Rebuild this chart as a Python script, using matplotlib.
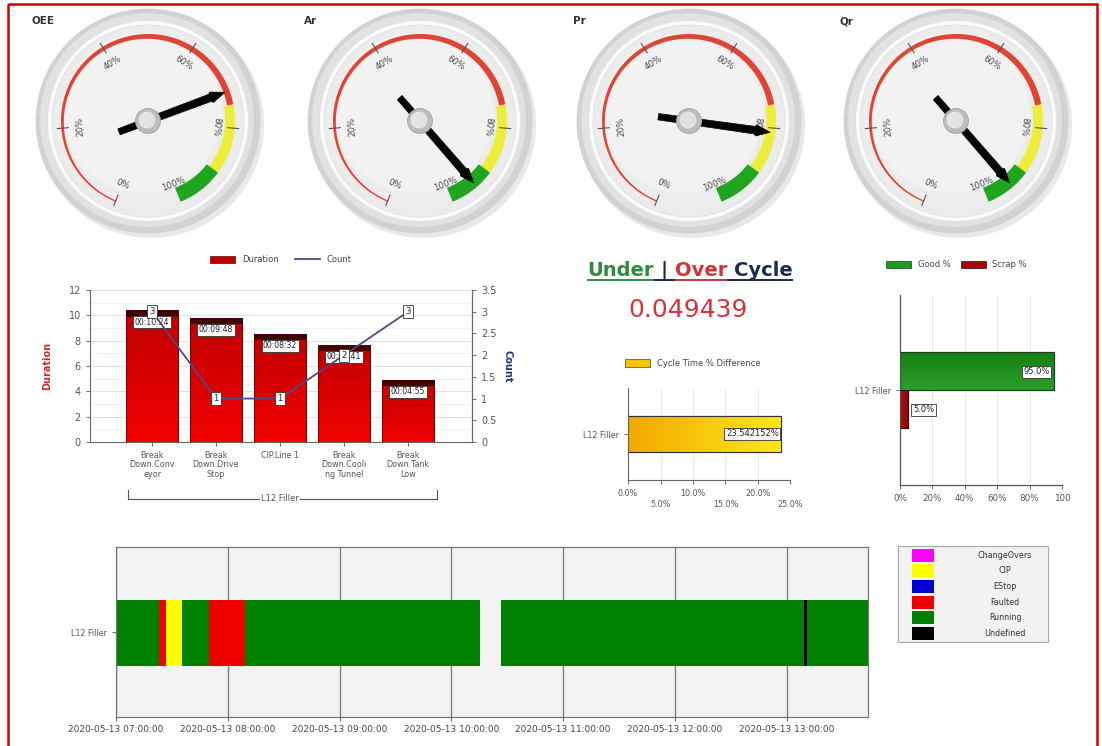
import numpy as np
import matplotlib
matplotlib.use('Agg')
import matplotlib.pyplot as plt
from matplotlib.patches import Circle, Polygon, Rectangle, Patch
from matplotlib.lines import Line2D
from matplotlib.colors import LinearSegmentedColormap
import matplotlib.dates as mdates
import pandas as pd

# ---------------- data ----------------
gauge_names = ['OEE', 'Ar', 'Pr', 'Qr']
gauge_values = [72, 94, 81, 94]
gauge_ticks = [0, 20, 40, 60, 80, 100]
gauge_band_limits = [0, 75, 90, 100]

downtime_categories = ['Break\nDown.Conv\neyor', 'Break\nDown.Drive\nStop', 'CIP.Line 1',
                       'Break\nDown.Cooli\nng Tunnel', 'Break\nDown.Tank\nLow']
downtime_duration = [10.4, 9.8, 8.53, 7.68, 4.92]
downtime_labels = ['00:10:24', '00:09:48', '00:08:32', '00:07:41', '00:04:55']
downtime_count = [3, 1, 1, 2, 3]
downtime_group = 'L12 Filler'

cycle_value = '0.049439'
cycle_category = ['L12 Filler']
cycle_diff = [23.542152]
cycle_diff_label = ['23.542152%']

quality_category = ['L12 Filler']
good_pct = [95.0]
scrap_pct = [5.0]

state_names = ['ChangeOvers', 'CIP', 'EStop', 'Faulted', 'Running', 'Undefined']
state_colors = ['#ff00ff', '#ffff00', '#0000cc', '#ee0000', '#008000', '#000000']
timeline_line = 'L12 Filler'
timeline_start = ['2020-05-13 07:00:00', '2020-05-13 07:23:00', '2020-05-13 07:27:00',
                  '2020-05-13 07:35:20', '2020-05-13 07:50:00', '2020-05-13 08:09:30',
                  '2020-05-13 10:26:30', '2020-05-13 13:09:30', '2020-05-13 13:10:40']
timeline_end = ['2020-05-13 07:23:00', '2020-05-13 07:27:00', '2020-05-13 07:35:20',
                '2020-05-13 07:50:00', '2020-05-13 08:09:30', '2020-05-13 10:15:20',
                '2020-05-13 13:09:30', '2020-05-13 13:10:40', '2020-05-13 13:44:00']
timeline_state = ['Running', 'Faulted', 'CIP', 'Running', 'Faulted', 'Running',
                  'Running', 'Undefined', 'Running']
timeline_range = ['2020-05-13 07:00:00', '2020-05-13 13:43:40']

# ---------------- figure ----------------
W, H = 1102, 746
fig = plt.figure(figsize=(W / 100, H / 100), dpi=100)
fig.patch.set_facecolor('white')


def add_ax(x0, y0, x1, y1):
    return fig.add_axes([x0 / W, 1 - y1 / H, (x1 - x0) / W, (y1 - y0) / H])


bg = fig.add_axes([0, 0, 1, 1])
bg.set_xlim(0, W)
bg.set_ylim(H, 0)
bg.axis('off')

# border
bg.add_patch(Rectangle((8, 4), 1089, 780, fill=False, ec='#cc0000', lw=1.8))


# ---------------- gauges ----------------
def val2ang(v):
    return 248 - 3.16 * v


def gpt(cx, cy, r, a_deg):
    a = np.deg2rad(a_deg)
    return cx + r * np.cos(a), cy - r * np.sin(a)


def band(cx, cy, v0, v1, r_out, w0, w1, color):
    vs = np.linspace(v0, v1, 80)
    ws = np.linspace(w0, w1, 80)
    outer = [gpt(cx, cy, r_out, val2ang(v)) for v in vs]
    inner = [gpt(cx, cy, r_out - w, val2ang(v)) for v, w in zip(vs[::-1], ws[::-1])]
    bg.add_patch(Polygon(outer + inner, closed=True, fc=color, ec='none', zorder=3))


def gauge(cx, cy, value, name):
    bg.add_patch(Circle((cx + 3, cy + 4), 113, fc='#e8e8e8', ec='none', zorder=1))
    bg.add_patch(Circle((cx, cy), 112, fc='#d2d2d2', ec='#cfcfcf', lw=0.5, zorder=1))
    bg.add_patch(Circle((cx - 1, cy - 1), 107, fc='#e2e2e2', ec='none', zorder=1))
    bg.add_patch(Circle((cx, cy), 100, fc='#fbfbfb', ec='none', zorder=1))
    bg.add_patch(Circle((cx, cy), 96, fc='#ececec', ec='#dddddd', lw=0.5, zorder=1))
    bg.add_patch(Circle((cx - 6, cy - 8), 80, fc='#f2f2f2', ec='none', zorder=1))
    r_out = 87
    b = gauge_band_limits
    band(cx, cy, b[0], b[1], r_out, 1.3, 6.5, '#de4535')
    band(cx, cy, b[1], b[2], r_out, 9.5, 11, '#eeee3a')
    band(cx, cy, b[2], b[3], r_out, 14, 15, '#1fa51f')
    for t in gauge_ticks[:-1]:
        a = val2ang(t)
        p0 = gpt(cx, cy, 80, a)
        p1 = gpt(cx, cy, 91, a)
        bg.plot([p0[0], p1[0]], [p0[1], p1[1]], color='#555555', lw=0.8, zorder=4)
    for t in gauge_ticks:
        a = val2ang(t)
        px, py = gpt(cx, cy, 68, a)
        rot = a - 90
        while rot > 180:
            rot -= 360
        while rot < -180:
            rot += 360
        if rot > 100:
            rot -= 180
        if rot < -100:
            rot += 180
        bg.text(px, py, f'{t}%', fontsize=6.2, color='#4a4a4a', rotation=rot,
                ha='center', va='center', rotation_mode='anchor', zorder=4)
    # needle
    a = np.deg2rad(val2ang(value))
    u = np.array([np.cos(a), -np.sin(a)])
    p = np.array([np.sin(a), np.cos(a)])
    local = [(-31, -3.2), (66, -3.8), (68, -5.5), (82, 0), (68, 5.5), (66, 3.8), (-31, 3.2)]
    pts = [np.array([cx, cy]) + s * u + t * p for s, t in local]
    bg.add_patch(Polygon(pts, closed=True, fc='#050505', ec='#050505', lw=0.5, zorder=5))
    bg.add_patch(Circle((cx, cy), 12.5, fc='#bcbcbc', ec='#a5a5a5', lw=0.6, zorder=6))
    bg.add_patch(Circle((cx - 1, cy - 1), 8.5, fc='#e4e4e4', ec='none', zorder=6))
    bg.text(cx - 116, 21, name, fontsize=7.5, fontweight='bold', color='#333333',
            ha='left', va='center', zorder=7)


gauge_cx = [148, 420, 689, 956]
for gx, gv, gn in zip(gauge_cx, gauge_values, gauge_names):
    gauge(gx, 121, gv, gn)


def grad_fill(ax, patch, c0, c1, horizontal=False):
    x0, y0 = patch.get_xy()
    w = patch.get_width()
    h = patch.get_height()
    g = np.linspace(0, 1, 256)
    arr = g[None, :] if horizontal else g[:, None]
    cmap = LinearSegmentedColormap.from_list('g', [c0, c1])
    im = ax.imshow(arr, cmap=cmap, extent=[x0, x0 + w, y0, y0 + h], origin='lower',
                   aspect='auto', zorder=patch.get_zorder() + 0.05, interpolation='bilinear')
    im.set_clip_path(patch)
    ax.add_patch(Rectangle((x0, y0), w, h, fill=False, ec=patch.get_edgecolor(),
                           lw=patch.get_linewidth(), zorder=patch.get_zorder() + 0.1))


# ---------------- downtime pareto ----------------
ax1 = add_ax(90, 290, 472, 442)
n = len(downtime_categories)
xs = np.arange(n)
bw = 0.81
bars = ax1.bar(xs, downtime_duration, width=bw, color='#d80000', edgecolor='#6a0000',
               lw=0.6, zorder=2)
for b in bars:
    grad_fill(ax1, b, '#f20000', '#c00000')
cap = 0.42
ax1.bar(xs, [cap] * n, bottom=np.array(downtime_duration) - cap, width=bw,
        color='#3e0404', edgecolor='#3e0404', lw=0.5, zorder=3)
for xi, h, lab in zip(xs, downtime_duration, downtime_labels):
    ax1.text(xi, h - 0.95, lab, ha='center', va='center', fontsize=5.6, color='#222222',
             bbox=dict(boxstyle='square,pad=0.18', fc='white', ec='#333333', lw=0.6), zorder=5)
ax1.set_xlim(-0.97, n)
ax1.set_ylim(0, 12)
ax1.set_yticks(np.arange(0, 13, 2))
ax1.set_yticks(np.arange(1, 12, 2), minor=True)
ax1.grid(axis='y', which='major', color='#dcdcdc', lw=0.6, zorder=0)
ax1.grid(axis='y', which='minor', color='#eeeeee', lw=0.5, zorder=0)
ax1.set_axisbelow(True)
ax1.set_xticks(xs)
ax1.set_xticklabels(downtime_categories, fontsize=5.8, color='#555555', linespacing=1.05)
ax1.tick_params(axis='y', labelsize=7, colors='#555555', length=3, width=0.6)
ax1.tick_params(axis='y', which='minor', length=0)
ax1.tick_params(axis='x', length=3, width=0.6, colors='#555555')
for s in ['left', 'bottom', 'right']:
    ax1.spines[s].set_color('#666666')
    ax1.spines[s].set_linewidth(0.8)
ax1.spines['top'].set_visible(False)
ax1.set_ylabel('Duration', color='#cc2a2a', fontsize=7, fontweight='bold')
ax1.yaxis.set_label_coords(-0.1, 0.5)

ax2 = ax1.twinx()
ax2.plot(xs, downtime_count, color='#4a4a88', lw=1.3, zorder=4)
for xi, c in zip(xs, downtime_count):
    ax2.text(xi, c, str(c), ha='center', va='center', fontsize=6, color='#222222',
             bbox=dict(boxstyle='square,pad=0.25', fc='white', ec='#333333', lw=0.6), zorder=6)
ax2.set_ylim(0, 3.5)
ax2.set_yticks(np.arange(0, 3.51, 0.5))
ax2.set_yticklabels(['0', '0.5', '1', '1.5', '2', '2.5', '3', '3.5'])
ax2.tick_params(axis='y', labelsize=7, colors='#555555', length=3, width=0.6)
ax2.spines['top'].set_visible(False)
ax2.spines['right'].set_color('#666666')
ax2.spines['left'].set_visible(False)
ax2.spines['bottom'].set_visible(False)
ax2.set_ylabel('Count', color='#223377', fontsize=7, fontweight='bold', rotation=270)
ax2.yaxis.set_label_coords(1.105, 0.5)

tr = ax1.get_xaxis_transform()
yb = -0.375
ax1.plot([-0.38, 4.45], [yb, yb], transform=tr, color='#555555', lw=0.8, clip_on=False)
ax1.plot([-0.38, -0.38], [yb, yb + 0.06], transform=tr, color='#555555', lw=0.8, clip_on=False)
ax1.plot([4.45, 4.45], [yb, yb + 0.06], transform=tr, color='#555555', lw=0.8, clip_on=False)
ax1.text(2.0, yb, downtime_group, transform=tr, ha='center', va='center', fontsize=6,
         color='#555555', bbox=dict(boxstyle='square,pad=0.1', fc='white', ec='none'))

ax1.legend(handles=[Patch(fc='#c00000', ec='#6a0000', lw=0.5, label='Duration'),
                    Line2D([], [], color='#4a4a88', lw=1.3, label='Count')],
           loc='center', bbox_to_anchor=(0.5, 1.2), ncol=2, frameon=False, fontsize=6,
           handlelength=3.0, handleheight=1.0, columnspacing=2.0, labelcolor='#444444')

# ---------------- under / over cycle ----------------
renderer = fig.canvas.get_renderer()
pieces = [('Under', '#2e8b3e'), ('|', '#1c2a48'), ('Over', '#d0323e'), ('Cycle', '#1c2a48')]
texts = []
for s, c in pieces:
    t = bg.text(0, 276, s, fontsize=14, fontweight='bold', color=c, ha='left',
                va='baseline')
    texts.append(t)
widths = [t.get_window_extent(renderer).width for t in texts]
gap = 14 * 100 / 72 * 0.36
total = sum(widths) + gap * (len(widths) - 1)
xcur = 690 - total / 2
ul = 279.5
for t, w, (s, c) in zip(texts, widths, pieces):
    t.set_x(xcur)
    bg.plot([xcur, xcur + w], [ul, ul], color=c, lw=1.4, solid_capstyle='butt')
    if t is not texts[-1]:
        bg.plot([xcur + w, xcur + w + gap], [ul, ul], color='#1c2a48', lw=1.4,
                solid_capstyle='butt')
    xcur += w + gap

bg.text(688, 310, cycle_value, fontsize=18, color='#d5343f', ha='center', va='center')

ax3 = add_ax(628, 388, 790.5, 480)
b3 = ax3.barh([0], cycle_diff, height=0.39, color='#f5c000', edgecolor='#333333', lw=0.8,
              zorder=2)
for b in b3:
    grad_fill(ax3, b, '#f2a800', '#ffe81a', horizontal=True)
for yi, v, lab in zip([0], cycle_diff, cycle_diff_label):
    ax3.text(v - 0.35, yi, lab, ha='right', va='center', fontsize=6, color='#222222',
             bbox=dict(boxstyle='square,pad=0.18', fc='white', ec='#333333', lw=0.6), zorder=5)
ax3.set_xlim(0, 25)
ax3.set_ylim(-0.5, 0.5)
ax3.set_xticks(np.arange(0, 26, 5))
ax3.set_xticklabels(['0.0%', '\n5.0%', '10.0%', '\n15.0%', '20.0%', '\n25.0%'],
                    fontsize=5.8, color='#555555', linespacing=1.3)
ax3.set_yticks([0])
ax3.set_yticklabels(cycle_category, fontsize=5.8, color='#444444')
ax3.grid(axis='x', color='#e4e4e4', lw=0.6, zorder=0)
ax3.set_axisbelow(True)
ax3.tick_params(length=3, width=0.6, colors='#555555')
for s in ['top', 'right']:
    ax3.spines[s].set_visible(False)
for s in ['left', 'bottom']:
    ax3.spines[s].set_color('#666666')
    ax3.spines[s].set_linewidth(0.8)
ax3.legend(handles=[Patch(fc='#f5c400', ec='#444444', lw=0.5, label='Cycle Time % Difference')],
           loc='center', bbox_to_anchor=(0.4, 1.27), frameon=False, fontsize=6,
           handlelength=3.0, handleheight=1.0, labelcolor='#444444')

# ---------------- good / scrap ----------------
ax4 = add_ax(900, 295, 1062, 485)
g4 = ax4.barh([0], good_pct, height=0.2, align='edge', color='#1a8f1a', edgecolor='#1e3a1e',
              lw=0.8, zorder=2)
s4 = ax4.barh([-0.2], scrap_pct, height=0.2, align='edge', color='#a00a0a', edgecolor='#3a0a0a',
              lw=0.8, zorder=2)
for b in g4:
    grad_fill(ax4, b, '#2aa02a', '#137f13')
for b in s4:
    grad_fill(ax4, b, '#b01010', '#8a0505', horizontal=True)
for v in good_pct:
    ax4.text(v - 2.5, 0.095, f'{v:.1f}%', ha='right', va='center', fontsize=6, color='#222222',
             bbox=dict(boxstyle='square,pad=0.18', fc='white', ec='#333333', lw=0.6), zorder=5)
for v in scrap_pct:
    ax4.text(v + 3.0, -0.105, f'{v:.1f}%', ha='left', va='center', fontsize=6, color='#222222',
             bbox=dict(boxstyle='square,pad=0.18', fc='white', ec='#333333', lw=0.6), zorder=5)
ax4.set_xlim(0, 100)
ax4.set_ylim(-0.5, 0.5)
ax4.set_xticks(np.arange(0, 101, 20))
ax4.set_xticklabels(['0%', '20%', '40%', '60%', '80%', '100'], fontsize=6.3, color='#555555')
ax4.set_yticks([0])
ax4.set_yticklabels(quality_category, fontsize=5.8, color='#444444')
ax4.grid(axis='x', color='#e2e2e2', lw=0.6, zorder=0)
ax4.set_axisbelow(True)
ax4.tick_params(length=3, width=0.6, colors='#555555')
for s in ['top', 'right']:
    ax4.spines[s].set_visible(False)
for s in ['left', 'bottom']:
    ax4.spines[s].set_color('#555555')
    ax4.spines[s].set_linewidth(0.9)
ax4.legend(handles=[Patch(fc='#1f9a1f', ec='#1e3a1e', lw=0.5, label='Good %'),
                    Patch(fc='#a00a0a', ec='#3a0a0a', lw=0.5, label='Scrap %')],
           loc='center', bbox_to_anchor=(0.35, 1.16), ncol=2, frameon=False, fontsize=6,
           handlelength=3.0, handleheight=1.0, columnspacing=1.2, labelcolor='#444444')

# ---------------- state timeline ----------------
ax5 = add_ax(116, 547, 868, 717)
ax5.set_facecolor('#f3f3f3')
color_of = dict(zip(state_names, state_colors))
st = mdates.date2num(pd.to_datetime(timeline_start))
en = mdates.date2num(pd.to_datetime(timeline_end))
for s0, e0, stt in zip(st, en, timeline_state):
    ax5.broken_barh([(s0, e0 - s0)], (-0.2, 0.39), facecolors=color_of[stt], edgecolor='none',
                    zorder=2)
rng = mdates.date2num(pd.to_datetime(timeline_range))
ax5.set_xlim(rng[0], rng[1])
ax5.set_ylim(-0.5, 0.5)
ax5.xaxis.set_major_locator(mdates.HourLocator())
ax5.xaxis.set_major_formatter(mdates.DateFormatter('%Y-%m-%d %H:%M:%S'))
ax5.grid(axis='x', color='#808080', lw=1.0, zorder=1)
ax5.set_axisbelow(True)
ax5.set_yticks([0])
ax5.set_yticklabels([timeline_line], fontsize=5.8, color='#444444')
ax5.tick_params(axis='x', labelsize=6.5, colors='#444444', length=3, width=0.6, pad=2.5)
ax5.tick_params(axis='y', length=3, width=0.6, colors='#555555')
for s in ax5.spines.values():
    s.set_color('#777777')
    s.set_linewidth(0.9)

# legend box for states
bg.add_patch(Rectangle((898, 546), 150, 96, fc='#f2f2f2', ec='#aaaaaa', lw=0.8, zorder=2))
for i, (nm, col) in enumerate(zip(state_names, state_colors)):
    yc = 555 + i * 15.7
    bg.add_patch(Rectangle((912, yc - 6.5), 22, 13, fc=col, ec='none', zorder=3))
    bg.text(1005, yc, nm, fontsize=5.8, color='#333333', ha='center', va='center', zorder=3)

fig.savefig('out.png', dpi=100)
